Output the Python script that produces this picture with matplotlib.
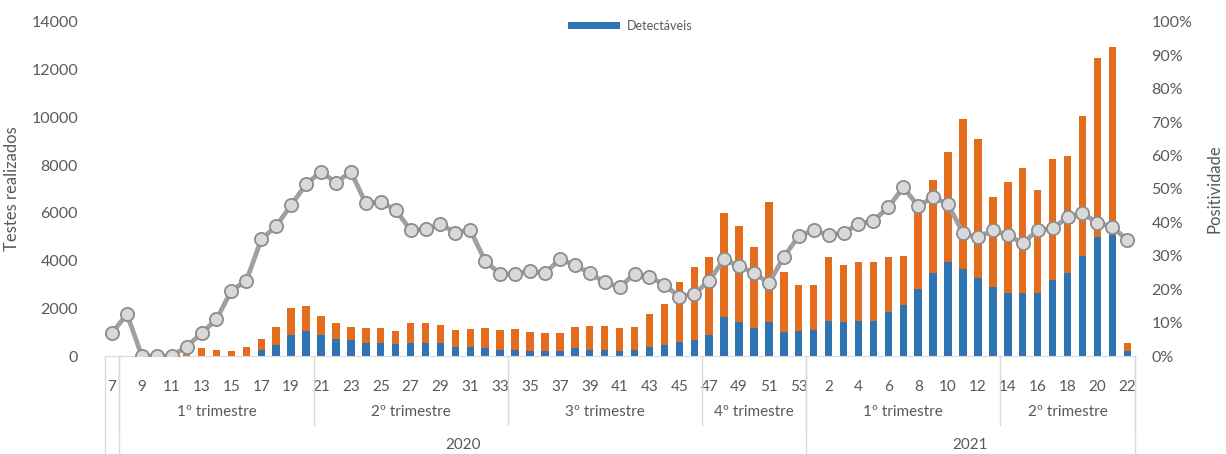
import matplotlib.pyplot as plt
import matplotlib.transforms as mtransforms
import numpy as np

# semanas epidemiológicas: 2020 (7..53) e 2021 (1..22)
weeks_2020 = list(range(7, 54))
weeks_2021 = list(range(1, 23))
weeks = weeks_2020 + weeks_2021

# testes realizados (total da barra)
testes = [0, 0, 0, 0, 0, 100, 340, 250, 220, 390, 700, 1200, 2000, 2100,
          1680, 1370, 1230, 1160, 1190, 1050, 1400, 1370, 1300, 1090, 1120,
          1160, 1090, 1130, 1020, 950, 950, 1230, 1260, 1260, 1160, 1230,
          1750, 2180, 3110, 3720, 4160, 5980, 5450, 4580, 6470, 3530, 2980,
          2980, 4160, 3810, 3950, 3950, 4160, 4190, 6260, 7380, 8560, 9920,
          9080, 6680, 7310, 7870, 6960, 8240, 8380, 10060, 12480, 12960, 560]

# resultados detectáveis
detectaveis = [0, 0, 0, 0, 0, 0, 0, 0, 0, 0, 250, 460, 880, 1060,
               880, 700, 670, 560, 560, 490, 530, 530, 530, 390, 390,
               320, 250, 250, 220, 220, 220, 320, 250, 250, 220, 250,
               390, 460, 600, 670, 880, 1650, 1440, 1160, 1440, 1020, 1050,
               1090, 1480, 1440, 1480, 1480, 1860, 2140, 2800, 3470, 3950, 3630,
               3260, 2880, 2630, 2630, 2630, 3190, 3470, 4190, 4970, 5070, 200]

# positividade (%)
positividade = [6.8, 12.6, 0, 0, 0, 2.8, 6.8, 11.0, 19.6, 22.5, 34.9, 38.9,
                45.2, 51.4, 55.2, 51.9, 55.2, 45.7, 46.2, 43.7, 37.7, 37.9,
                39.5, 36.9, 37.7, 28.4, 24.6, 24.6, 25.4, 24.8, 29.0, 27.2,
                24.8, 22.1, 20.6, 24.6, 23.7, 21.3, 17.8, 18.6, 22.5, 29.0,
                26.9, 24.9, 21.8, 29.7, 35.9, 37.6, 36.2, 36.9, 39.5, 40.5,
                44.5, 50.5, 44.9, 47.5, 45.5, 36.7, 35.5, 37.7, 36.2, 33.7,
                37.7, 38.2, 41.5, 42.7, 39.9, 38.7, 34.7]

# grupos do eixo: (rótulo, primeiro índice, último índice)
trimestres = [("", 0, 0), ("1º trimestre", 1, 13), ("2º trimestre", 14, 26),
              ("3º trimestre", 27, 39), ("4º trimestre", 40, 46),
              ("1º trimestre", 47, 59), ("2º trimestre", 60, 68)]
anos = [("", 0, 0), ("2020", 1, 46), ("2021", 47, 68)]

blue = "#2e74b5"
orange = "#e46c1d"
txt = "#595959"
grid_c = "#d9d9d9"

plt.rcParams['font.family'] = ['Lato', 'DejaVu Sans']

fig = plt.figure(figsize=(12.26, 4.54), dpi=100)
ax = fig.add_axes([104.5 / 1226, 98 / 454, 1030.2 / 1226, 334 / 454])

x = np.arange(len(weeks))
testes = np.array(testes)
detectaveis = np.array(detectaveis)

ax.bar(x, detectaveis, width=0.5, color=blue, label='Detectáveis', zorder=2)
ax.bar(x, testes - detectaveis, width=0.5, bottom=detectaveis, color=orange, zorder=2)

ax.set_xlim(-0.5, len(weeks) - 0.5)
ax.set_ylim(0, 14000)
ax.set_yticks(range(0, 14001, 2000))
ax.set_xticks(x)
ax.set_xticklabels([str(w) if i % 2 == 0 else "" for i, w in enumerate(weeks)])
ax.tick_params(axis='x', length=0, pad=17, labelsize=11, colors=txt)
ax.tick_params(axis='y', length=0, pad=19, labelsize=11.5, colors=txt)
ax.set_ylabel('Testes realizados', fontsize=12, color=txt, labelpad=8)

for s in ['top', 'right', 'left']:
    ax.spines[s].set_visible(False)
ax.spines['bottom'].set_color(grid_c)

# eixo de categorias em vários níveis
trans = mtransforms.blended_transform_factory(ax.transData, ax.transAxes)
for label, a, b in trimestres:
    ax.text((a + b) / 2, -0.168, label, transform=trans, ha='center', va='center',
            fontsize=11, color=txt)
    ax.plot([b + 0.5, b + 0.5], [0, -0.207], transform=trans, color=grid_c,
            lw=1, clip_on=False)
for label, a, b in anos:
    ax.text((a + b) / 2, -0.266, label, transform=trans, ha='center', va='center',
            fontsize=11, color=txt)
    ax.plot([b + 0.5, b + 0.5], [0, -0.3], transform=trans, color=grid_c,
            lw=1, clip_on=False)
ax.plot([-0.5, -0.5], [0, -0.3], transform=trans, color=grid_c, lw=1, clip_on=False)

ax2 = ax.twinx()
ax2.plot(x, np.array(positividade) / 100, color='#a0a0a0', lw=3.4, marker='o',
         markersize=9.5, markerfacecolor='#d9d9d9', markeredgecolor='#8c8c8c',
         markeredgewidth=1.3, zorder=3)
ax2.set_ylim(0, 1)
ax2.set_yticks(np.arange(0, 1.01, 0.1))
ax2.set_yticklabels([f"{int(round(v * 100))}%" for v in np.arange(0, 1.01, 0.1)])
ax2.tick_params(axis='y', length=0, pad=12, labelsize=11.5, colors=txt)
ax2.set_ylabel('Positividade', fontsize=12, color=txt, labelpad=10)
for s in ['top', 'right', 'left', 'bottom']:
    ax2.spines[s].set_visible(False)

ax.legend(loc='upper center', bbox_to_anchor=(0.51, 1.04), frameon=False,
          fontsize=9, handlelength=4.2, handleheight=0.6, handletextpad=0.5,
          labelcolor=txt)

fig.savefig("out.png", dpi=100)
